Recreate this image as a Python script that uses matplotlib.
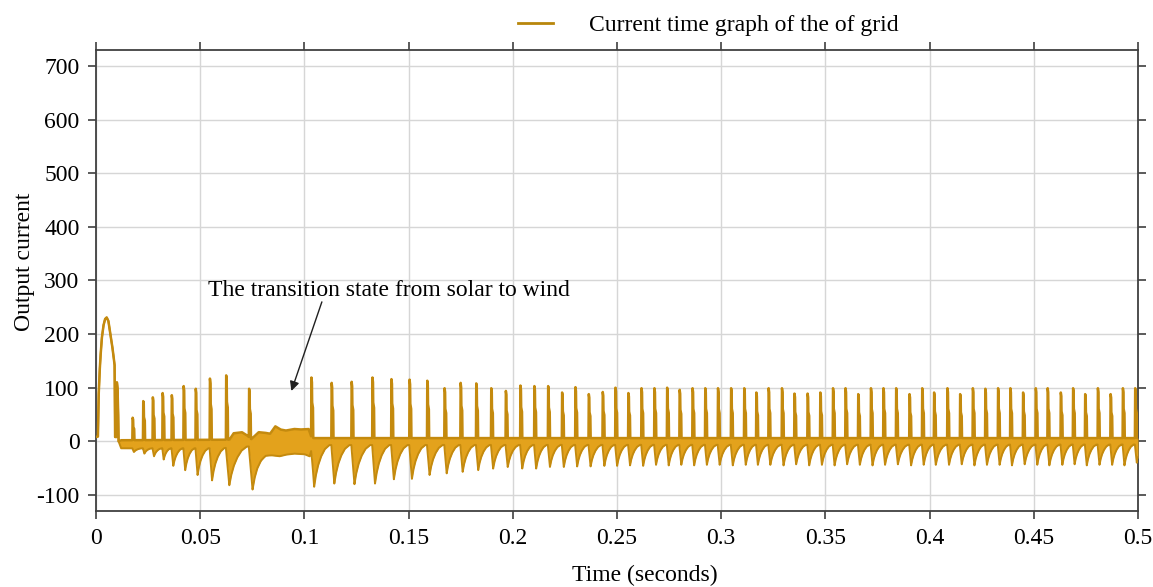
import numpy as np
import matplotlib
matplotlib.use("Agg")
import matplotlib.pyplot as plt

plt.rcParams["font.family"] = ["Liberation Serif", "DejaVu Serif"]
plt.rcParams["axes.unicode_minus"] = False

# --- data ---
# start-up hump (time s, current)
hump_t = [0, 0.0009, 0.0012, 0.0016, 0.0020, 0.0027, 0.0035, 0.0043, 0.0051,
          0.0059, 0.0067, 0.0075, 0.0082, 0.0089, 0.0091, 0.0099, 0.0100,
          0.0103, 0.0106, 0.0108]
hump_v = [8, 9, 80, 120, 150, 190, 215, 228, 231, 225, 205, 185, 165, 142,
          8, 8, 110, 100, 60, 0]

# upper / lower edge of the dense switching band
band_up_t = [0.0108, 0.012, 0.064, 0.066, 0.070, 0.0725, 0.0745, 0.078,
             0.081, 0.0835, 0.086, 0.0885, 0.091, 0.095, 0.098, 0.102,
             0.1035, 0.5]
band_up_v = [0, 2, 3, 15, 17, 11, 4, 17, 16, 14, 28, 22, 20, 23, 22, 23, 6, 6]
band_lo_t = [0.0108, 0.012, 0.060, 0.076, 0.080, 0.084, 0.088, 0.091,
             0.095, 0.100, 0.1025, 0.1040, 0.5]
band_lo_v = [0, -13, -13, -9, -17, -26, -28, -25, -23, -24, -28, -7, -6]

spike_t = [0.0174, 0.0225, 0.0271, 0.0318, 0.0362, 0.0419, 0.0477, 0.0545,
           0.0623, 0.0733,
           0.1032, 0.1129, 0.1225, 0.1325, 0.1416, 0.1503, 0.1588,
           0.1671, 0.1748, 0.1823, 0.1895, 0.1965, 0.2035, 0.2102, 0.2168,
           0.2235, 0.2299, 0.2363, 0.2430,
           0.2491, 0.2553, 0.2616, 0.2678, 0.2739, 0.2799, 0.2861, 0.2922,
           0.2983, 0.3046, 0.3109, 0.3167,
           0.3226, 0.3290, 0.3350, 0.3413, 0.3474, 0.3535, 0.3595, 0.3656,
           0.3717, 0.3777, 0.3838, 0.3902, 0.3963,
           0.4020, 0.4084, 0.4145, 0.4206, 0.4266, 0.4327, 0.4386, 0.4447,
           0.4508, 0.4565, 0.4628, 0.4687, 0.4745, 0.4806, 0.4867, 0.4926,
           0.4985]
spike_peak = [44, 75, 82, 90, 86, 103, 98, 117, 123, 98,
              119, 109, 111, 119, 116, 115, 113,
              99, 109, 108, 99, 94, 104, 103, 103, 91, 101, 88, 92,
              100, 90, 99, 99, 100, 96, 99, 99, 99, 99, 99, 91,
              99, 99, 89, 89, 91, 99, 99, 88, 99, 99, 99, 88, 99,
              91, 99, 88, 99, 98, 99, 99, 91, 99, 99, 91, 99, 88, 99, 88,
              99, 99]
trough_v = [-20, -23, -28, -34, -46, -54, -63, -73, -82, -90,
            -85, -79, -80, -79, -71, -70, -63,
            -60, -57, -54, -51, -48, -51, -51, -48, -48, -47, -47, -46,
            -46, -45, -46, -44, -45, -44, -45, -44, -44, -45, -44, -44,
            -44, -45, -43, -45, -44, -45, -43, -44, -45, -44, -43, -45, -44,
            -44, -44, -43, -45, -44, -44, -45, -43, -44, -45, -44, -43, -45,
            -44, -44, -45, -40]

FILL = "#E3A21C"
EDGE = "#C48A0E"

# --- build the envelope of the trace ---
t = np.linspace(0, 0.5, 40001)
upper = np.interp(t, band_up_t, band_up_v)
lower = np.interp(t, band_lo_t, band_lo_v)
in_hump = t <= hump_t[-1]
upper[in_hump] = np.interp(t[in_hump], hump_t, hump_v)
lower[in_hump] = upper[in_hump]

spike_rel = [0, 0.00015, 0.0004, 0.00045, 0.0009, 0.001]
spike_shape = [0, 1, 0.92, 0.6, 0.5, 0]
rec_frac = [0, 0.1, 0.25, 0.45, 0.7, 1.0]
rec_shape = [1, 0.75, 0.5, 0.28, 0.1, 0]

for k, tk in enumerate(spike_t):
    period = spike_t[k + 1] - tk if k + 1 < len(spike_t) else 0.0061
    span = min(period, 0.012)

    # up-going spike
    win = (t >= tk) & (t <= tk + spike_rel[-1])
    base = upper[win]
    f = np.interp(t[win] - tk, spike_rel, spike_shape)
    upper[win] = np.maximum(base, base + f * (spike_peak[k] - base))

    # negative dip with recovery
    d = 0.15 * span
    r = 0.75 * span
    win = (t >= tk) & (t <= tk + d + r)
    rel = t[win] - tk
    g = np.where(rel < d, rel / d,
                 np.interp((rel - d) / r, rec_frac, rec_shape))
    base = lower[win]
    lower[win] = np.minimum(base, base + g * (trough_v[k] - base))

fig = plt.figure(figsize=(11.53, 5.87), dpi=100)
ax = fig.add_axes([0.0833, 0.1295, 0.9037, 0.7853])

ax.fill_between(t, lower, upper, color=FILL, lw=0, zorder=3)
ax.plot(t, upper, color=EDGE, lw=1.8, zorder=4)
ax.plot(t, lower, color=EDGE, lw=1.4, zorder=4)

ax.set_xlim(0, 0.5)
ax.set_ylim(-130, 730)
ax.set_xticks([0, 0.05, 0.1, 0.15, 0.2, 0.25, 0.3, 0.35, 0.4, 0.45, 0.5])
ax.set_xticklabels(["0", "0.05", "0.1", "0.15", "0.2", "0.25", "0.3",
                    "0.35", "0.4", "0.45", "0.5"])
ax.set_yticks(range(-100, 701, 100))
ax.grid(True, color="#d6d6d6", lw=1.0, zorder=0)
ax.tick_params(direction="out", length=6, width=1.2, color="#404040",
               labelsize=17, top=True, right=True, pad=6)
for sp in ax.spines.values():
    sp.set_color("#404040")
    sp.set_linewidth(1.3)

ax.set_xlabel("Time (seconds)", fontsize=17)
ax.xaxis.set_label_coords(0.527, -0.117)
ax.set_ylabel("Output current", fontsize=17)
ax.yaxis.set_label_coords(-0.059, 0.54)

ax.annotate("", xy=(0.0933, 89), xytext=(0.1088, 265),
            arrowprops=dict(arrowstyle="-|>", color="#202020", lw=1.0,
                            mutation_scale=14), zorder=5)
ax.text(0.0535, 282, "The transition state from solar to wind",
        fontsize=17, ha="left", va="center", zorder=5)

ax.plot([], [], color="#B8860B", lw=2, label="Current time graph of the of grid")
fig.legend(loc="center", bbox_to_anchor=(0.614, 0.957), frameon=False,
           fontsize=17, handlelength=1.5, handletextpad=1.5)

fig.savefig("out.png", dpi=100)
